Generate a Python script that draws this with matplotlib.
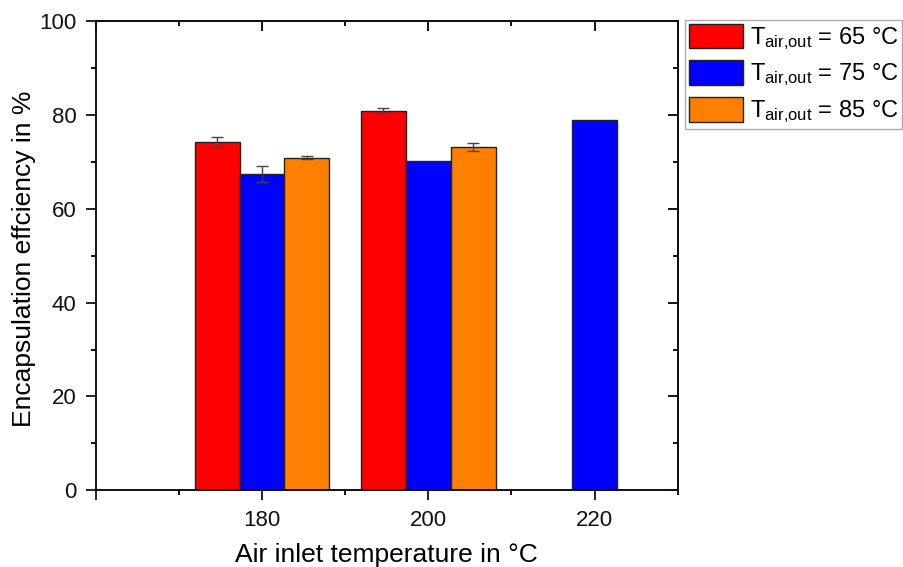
import numpy as np
import matplotlib
matplotlib.use("Agg")
import matplotlib.pyplot as plt
from matplotlib.ticker import MultipleLocator, FixedLocator

plt.rcParams['font.family'] = ['Liberation Sans', 'DejaVu Sans']
plt.rcParams['mathtext.fontset'] = 'custom'
plt.rcParams['mathtext.rm'] = 'Liberation Sans'
plt.rcParams['mathtext.it'] = 'Liberation Sans'

categories = [180, 200, 220]
series_labels = [r'T$_{\mathrm{air{,}out}}$ = 65 °C',
                 r'T$_{\mathrm{air{,}out}}$ = 75 °C',
                 r'T$_{\mathrm{air{,}out}}$ = 85 °C']
values = {
    '65': [74.2, 80.9, np.nan],
    '75': [67.4, 70.1, 78.8],
    '85': [70.9, 73.2, np.nan],
}
errors = {
    '65': [1.1, 0.55, np.nan],
    '75': [1.75, 0.0, 0.0],
    '85': [0.25, 0.9, np.nan],
}
colors = ['#FF0000', '#0000FF', '#FF8000']
keys = ['65', '75', '85']

fig = plt.figure(figsize=(9.04, 5.67), dpi=100)
ax = fig.add_axes([95.7/904, 1-490.3/567, (677.7-95.7)/904, (490.3-21)/567])

width = 5.4
offsets = [-width, 0, width]
handles = []
for k, c, off, lab in zip(keys, colors, offsets, series_labels):
    v = np.array(values[k], dtype=float)
    e = np.array(errors[k], dtype=float)
    m = ~np.isnan(v)
    x = np.array(categories, dtype=float)[m] + off
    h = ax.bar(x, v[m], width=width, color=c, edgecolor='#222222', linewidth=1.0,
               label=lab, zorder=2)
    handles.append(h)
    em = m & (np.nan_to_num(e) > 0)
    if em.any():
        ax.errorbar(np.array(categories, dtype=float)[em] + off, v[em], yerr=e[em],
                    fmt='none', ecolor='#444444', elinewidth=1.0, capsize=4,
                    capthick=1.0, zorder=3)

ax.set_xlim(160, 230)
ax.set_ylim(0, 100)
ax.xaxis.set_major_locator(FixedLocator([160, 180, 200, 220]))
ax.xaxis.set_minor_locator(FixedLocator([170, 190, 210, 230]))
ax.set_xticklabels(['', '180', '200', '220'])
ax.yaxis.set_major_locator(MultipleLocator(20))
ax.yaxis.set_minor_locator(MultipleLocator(10))

for s in ax.spines.values():
    s.set_linewidth(1.4)
    s.set_color('#111111')

ax.tick_params(axis='both', which='major', length=7, width=1.3, labelsize=16, colors='#111111')
ax.tick_params(axis='both', which='minor', length=3.5, width=1.3)
ax.tick_params(axis='x', which='both', bottom=True, top=False, direction='out', pad=7)
ax.tick_params(axis='y', which='both', left=True, right=False, direction='out', pad=7)

# inward ticks on top and right
axt = ax.secondary_xaxis('top')
axt.xaxis.set_major_locator(FixedLocator([160, 180, 200, 220]))
axt.xaxis.set_minor_locator(FixedLocator([170, 190, 210, 230]))
axt.tick_params(which='major', direction='in', length=7, width=1.3, labeltop=False)
axt.tick_params(which='minor', direction='in', length=3.5, width=1.3)
axt.spines['top'].set_linewidth(1.4)
axr = ax.secondary_yaxis('right')
axr.yaxis.set_major_locator(MultipleLocator(20))
axr.yaxis.set_minor_locator(MultipleLocator(10))
axr.tick_params(which='major', direction='in', length=7, width=1.3, labelright=False)
axr.tick_params(which='minor', direction='in', length=3.5, width=1.3)
axr.spines['right'].set_linewidth(1.4)

fig.text((235+538)/2/904, 1-562/567, 'Air inlet temperature in °C', fontsize=19,
         ha='center', va='baseline')
fig.text(24/904, 1-259/567, 'Encapsulation effciency in %', fontsize=19,
         ha='center', va='center', rotation=90)

leg = fig.legend(handles=handles, loc='upper left',
                 bbox_to_anchor=(685/904, 1-20/567), fontsize=17,
                 frameon=True, fancybox=False, edgecolor='#999999',
                 handlelength=2.3, handleheight=1.2, handletextpad=0.3,
                 labelspacing=0.38, borderpad=0.15, borderaxespad=0)
leg.get_frame().set_linewidth(1.0)

fig.savefig('out.png', dpi=100)
